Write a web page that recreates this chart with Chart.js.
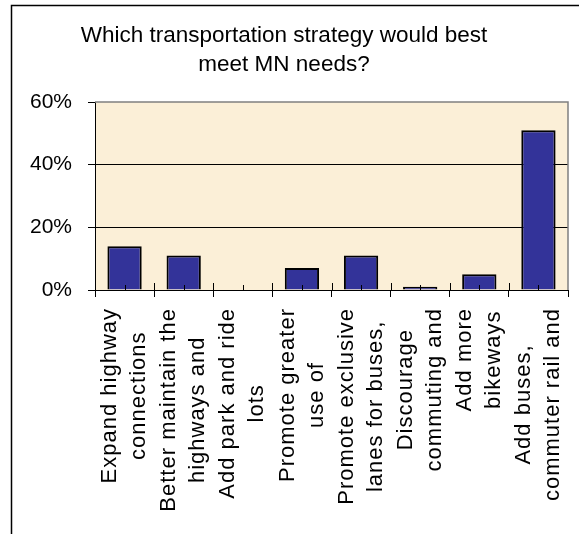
<!DOCTYPE html>
<html>
<head>
<meta charset="utf-8">
<script src="https://cdn.jsdelivr.net/npm/chart.js@4"></script>
<style>
  body { margin: 0; background: #fff; }
  #wrap { width: 579px; height: 534px; }
</style>
</head>
<body>
<div id="wrap"><canvas id="grafico"></canvas></div>
<script>
const titulo = ['Which transportation strategy would best', 'meet MN needs?'];
const categorias = [
    ['Expand highway', 'connections'],
    ['Better maintain the', 'highways and'],
    ['Add park and ride', 'lots'],
    ['Promote greater', 'use of'],
    ['Promote exclusive', 'lanes for buses,'],
    ['Discourage', 'commuting and'],
    ['Add more', 'bikeways'],
    ['Add buses,', 'commuter rail and']
];
const porcentajes = [14, 11, 0, 7, 11, 1, 5, 51];
const ticksY = [0, 20, 40, 60];

const fuente = 'Arial, "Liberation Sans", sans-serif';

// Fondo del area, marco exterior, etiquetas centradas y marcas interiores
const decorado = {
    id: 'decorado',
    beforeDraw(chart) {
        const ctx = chart.ctx;
        const a = chart.chartArea;
        ctx.save();
        ctx.fillStyle = '#fbefd7';
        ctx.fillRect(a.left, a.top, a.right - a.left, a.bottom - a.top);
        ctx.strokeStyle = '#000';
        ctx.lineWidth = 1.5;
        ctx.beginPath();
        ctx.moveTo(11.5, chart.height);
        ctx.lineTo(11.5, 5.5);
        ctx.lineTo(chart.width, 5.5);
        ctx.stroke();
        ctx.restore();
    },
    afterDatasetsDraw(chart) {
        const ctx = chart.ctx;
        const a = chart.chartArea;
        const x = chart.scales.x;
        ctx.save();
        ctx.strokeStyle = '#000';
        ctx.lineWidth = 1;
        for (let i = 0; i < categorias.length; i++) {
            const c = Math.round(x.getPixelForTick(i)) + 0.5;
            ctx.beginPath();
            ctx.moveTo(c, a.bottom);
            ctx.lineTo(c, a.bottom - 5);
            ctx.stroke();
            if (i > 0) {
                const b = Math.round((x.getPixelForTick(i) + x.getPixelForTick(i - 1)) / 2) + 0.5;
                ctx.beginPath();
                ctx.moveTo(b, a.bottom);
                ctx.lineTo(b, a.bottom - 7);
                ctx.stroke();
            }
        }
        ctx.strokeStyle = '#808080';
        ctx.lineWidth = 1.5;
        ctx.beginPath();
        ctx.moveTo(a.left, a.top);
        ctx.lineTo(a.right, a.top);
        ctx.lineTo(a.right, a.bottom);
        ctx.stroke();
        ctx.restore();
    },
    afterDraw(chart) {
        const ctx = chart.ctx;
        const a = chart.chartArea;
        const x = chart.scales.x;
        ctx.save();
        ctx.font = '22px ' + fuente;
        ctx.fillStyle = '#000';
        if ('letterSpacing' in ctx) ctx.letterSpacing = '1px';
        ctx.textAlign = 'center';
        ctx.textBaseline = 'middle';
        const alto = 29;
        categorias.forEach((lineas, i) => {
            const ancho = Math.max(...lineas.map(l => ctx.measureText(l).width));
            const cy = a.bottom + 18 + ancho / 2;
            const cx = x.getPixelForTick(i);
            lineas.forEach((l, j) => {
                ctx.save();
                ctx.translate(cx + (j - (lineas.length - 1) / 2) * alto, cy);
                ctx.rotate(-Math.PI / 2);
                ctx.fillText(l, 0, 0);
                ctx.restore();
            });
        });
        ctx.restore();
    }
};

new Chart(document.getElementById('grafico'), {
    type: 'bar',
    data: {
        labels: categorias,
        datasets: [{
            data: porcentajes,
            backgroundColor: '#333399',
            borderColor: '#000',
            borderWidth: 2,
            borderSkipped: 'start',
            barPercentage: 0.58,
            categoryPercentage: 1
        }]
    },
    options: {
        responsive: true,
        maintainAspectRatio: false,
        animation: false,
        layout: { padding: { top: 0, right: 11, bottom: 0, left: 0 } },
        plugins: {
            legend: { display: false },
            tooltip: { enabled: false },
            title: {
                display: true,
                text: titulo,
                color: '#000',
                font: { family: fuente, size: 22.5, weight: 'normal', lineHeight: 29 / 22.5 },
                padding: { top: 21, bottom: 23 }
            }
        },
        scales: {
            x: {
                offset: true,
                afterFit: s => { s.height = 244; },
                ticks: { display: false },
                grid: {
                    offset: true,
                    drawOnChartArea: false,
                    color: '#000',
                    tickLength: 7
                },
                border: { display: true, color: '#000', width: 1 }
            },
            y: {
                min: 0,
                max: 60,
                afterFit: s => { s.width = 95; },
                afterBuildTicks: s => { s.ticks = ticksY.map(v => ({ value: v })); },
                ticks: {
                    padding: 16,
                    color: '#000',
                    font: { family: fuente, size: 21 },
                    callback: v => v + '%'
                },
                grid: {
                    color: c => (c.tick && c.tick.value === 60) ? 'rgba(0,0,0,0)' : '#000',
                    tickColor: '#000',
                    tickLength: 7,
                    lineWidth: 1
                },
                border: { display: true, color: '#000', width: 1 }
            }
        }
    },
    plugins: [decorado]
});
</script>
</body>
</html>
